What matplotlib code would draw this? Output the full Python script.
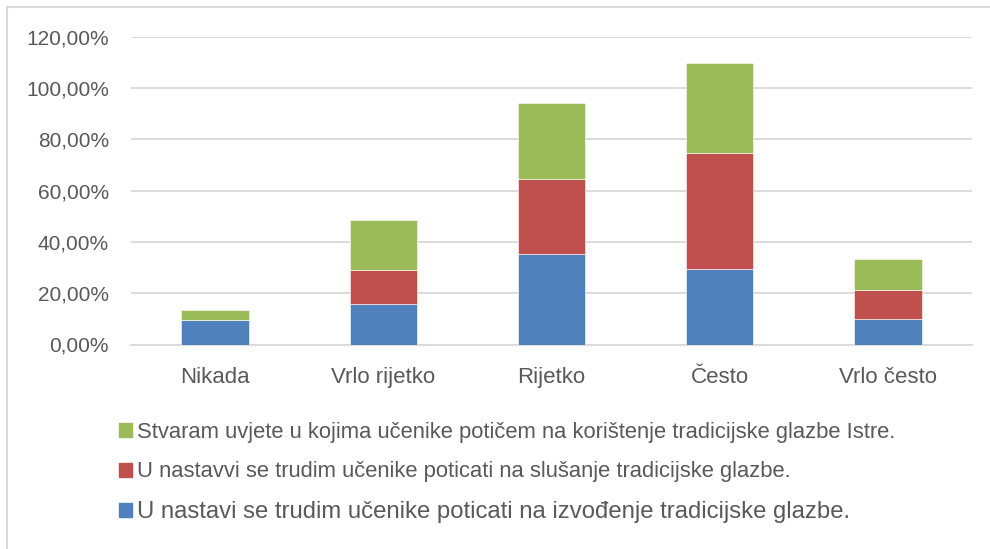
import numpy as np
import matplotlib.pyplot as plt
from matplotlib.patches import Patch, Rectangle

plt.rcParams['font.family'] = ['Liberation Sans', 'DejaVu Sans']

categories = ['Nikada', 'Vrlo rijetko', 'Rijetko', 'Često', 'Vrlo često']
izvodenje = [9.7, 15.6, 35.2, 29.4, 9.9]
slusanje = [0.0, 13.6, 29.5, 45.1, 11.5]
koristenje = [3.7, 19.5, 29.4, 35.3, 11.9]
yticks = [0, 20, 40, 60, 80, 100, 120]

labels = ['U nastavi se trudim učenike poticati na izvođenje tradicijske glazbe.',
          'U nastavvi se trudim učenike poticati na slušanje tradicijske glazbe.',
          'Stvaram uvjete u kojima učenike potičem na korištenje tradicijske glazbe Istre.']
colors = ['#4F81BD', '#C0504D', '#9BBB59']
grey = '#595959'

fig = plt.figure(figsize=(9.9, 5.49), dpi=100)
fig.patches.append(Rectangle((7/990, -0.1), 1.2, (549-7)/549 + 0.1, transform=fig.transFigure,
                             fill=False, edgecolor='#d9d9d9', linewidth=1.5))
ax = fig.add_axes([131/990, 1-344.5/549, (972-131)/990, (344.5-36.7)/549])

x = np.arange(len(categories))
bottom = np.zeros(len(categories))
for vals, c in zip([izvodenje, slusanje, koristenje], colors):
    ax.bar(x, vals, 0.4, bottom=bottom, color=c, edgecolor='white', linewidth=0.4, zorder=3)
    bottom += np.array(vals)

ax.set_xlim(-0.5, 4.5)
ax.set_ylim(0, 120)
ax.set_yticks(yticks)
ax.set_yticklabels(['%d,00%%' % v for v in yticks])
ax.set_xticks(x)
ax.set_xticklabels(categories)
ax.tick_params(length=0, colors=grey)
ax.tick_params(axis='y', pad=16, labelsize=15)
ax.tick_params(axis='x', pad=16, labelsize=16)
ax.grid(axis='y', color='#d9d9d9', linewidth=1.3, zorder=0)
for s in ['top', 'right', 'left']:
    ax.spines[s].set_visible(False)
ax.spines['bottom'].set_color('#d9d9d9')
ax.spines['bottom'].set_linewidth(1.3)

handles = [Patch(color=colors[i], label=labels[i]) for i in [2, 1, 0]]
leg = fig.legend(handles=handles, loc='upper left', bbox_to_anchor=(110/990, 1-413/549),
                 frameon=False, fontsize=15.8, handlelength=0.6, handleheight=0.6,
                 handletextpad=0.25, labelspacing=0.85, borderaxespad=0)
for t in leg.get_texts():
    t.set_color(grey)
leg.get_texts()[2].set_fontsize(17.2)

fig.savefig('out.png', dpi=100)
